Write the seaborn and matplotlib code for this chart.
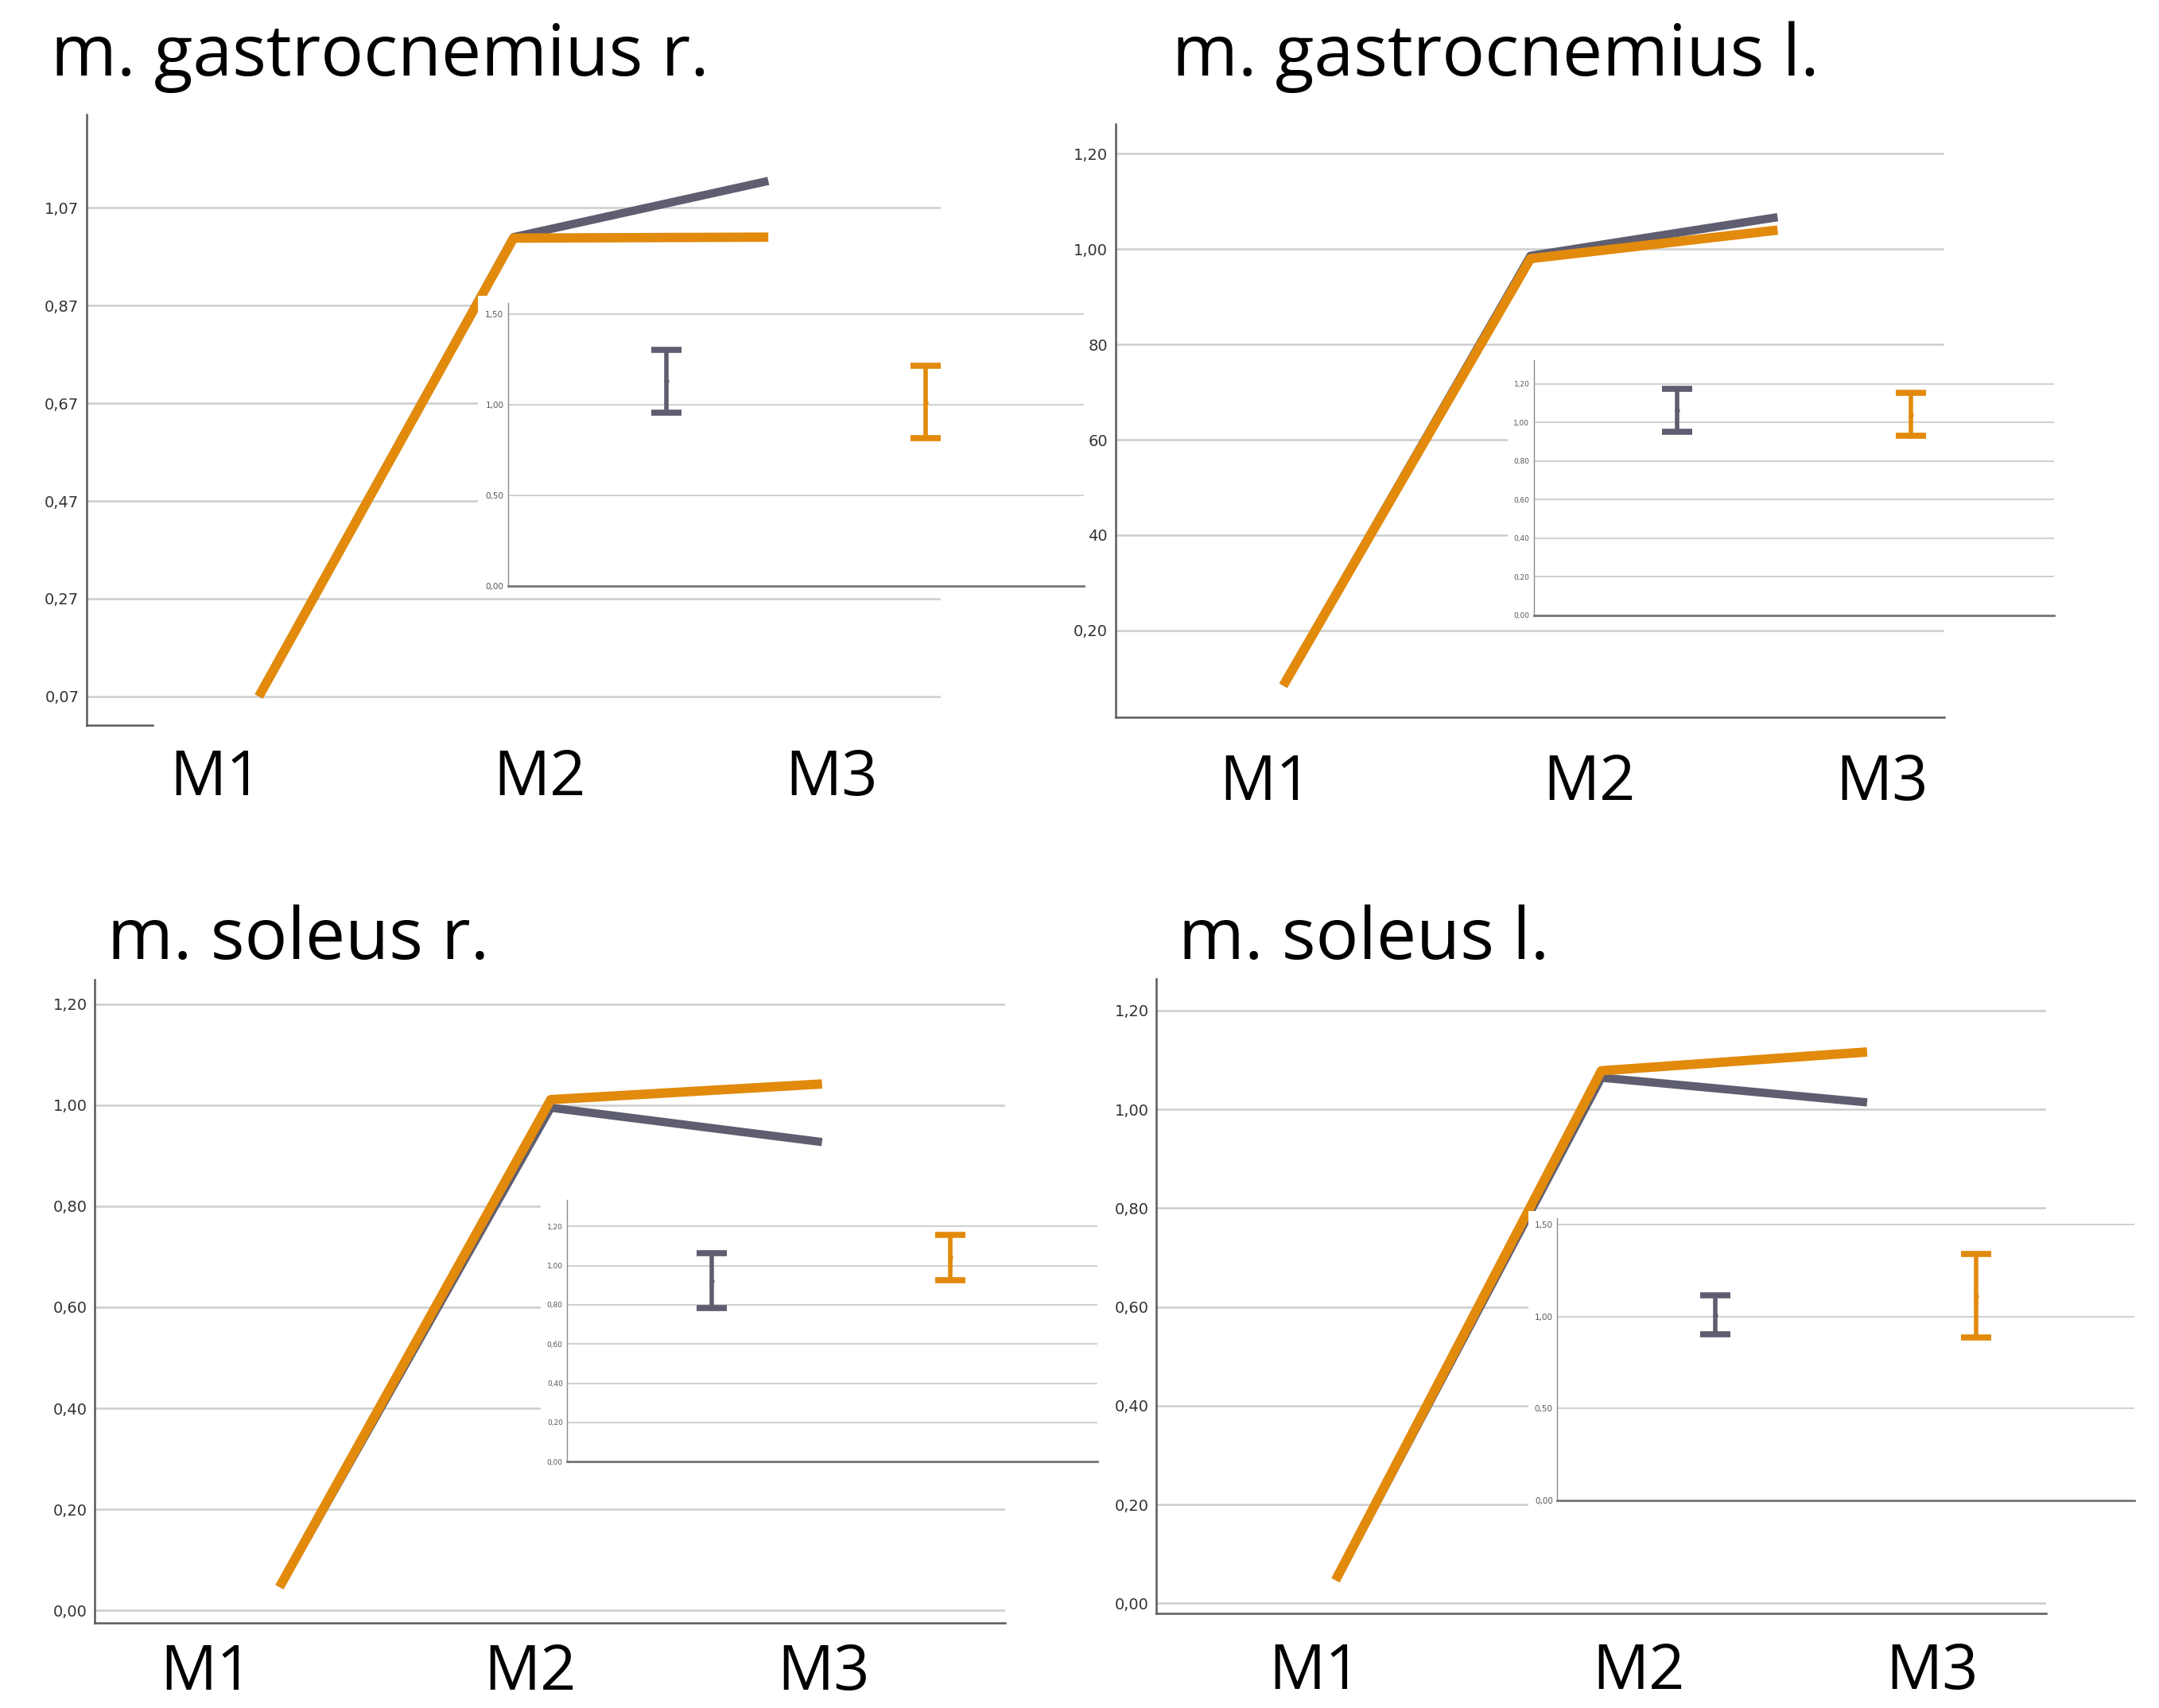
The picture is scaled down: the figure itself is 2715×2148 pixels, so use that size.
import matplotlib
matplotlib.use("Agg")
import matplotlib.pyplot as plt
from matplotlib.patches import Rectangle
import pandas as pd
import seaborn as sns

sns.set_theme(style="white")
plt.rcParams["font.family"] = ["DejaVu Sans"]

# --- colores ---
GREY = "#5e5e70"
ORANGE = "#e28a0c"
GRID = "#cdcdcd"

# --- datos ---
TIMES = ["M1", "M2", "M3"]
TITLES = ["m. gastrocnemius r.", "m. gastrocnemius l.", "m. soleus r.", "m. soleus l."]

GR_GREY = [0.07, 1.01, 1.125]
GR_ORANGE = [0.07, 1.008, 1.01]
GL_GREY = [0.084, 0.986, 1.067]
GL_ORANGE = [0.084, 0.98, 1.04]
SR_GREY = [0.046, 0.995, 0.927]
SR_ORANGE = [0.046, 1.011, 1.042]
SL_GREY = [0.047, 1.064, 1.014]
SL_ORANGE = [0.047, 1.078, 1.116]

# inset: (media, inferior, superior)
GR_ERR_GREY = (1.13, 0.955, 1.30)
GR_ERR_ORANGE = (1.012, 0.815, 1.212)
GL_ERR_GREY = (1.065, 0.953, 1.175)
GL_ERR_ORANGE = (1.04, 0.93, 1.153)
SR_ERR_GREY = (0.923, 0.782, 1.062)
SR_ERR_ORANGE = (1.042, 0.927, 1.155)
SL_ERR_GREY = (1.007, 0.903, 1.115)
SL_ERR_ORANGE = (1.114, 0.886, 1.34)

GR_TICKS = [0.07, 0.27, 0.47, 0.67, 0.87, 1.07]
GR_TICKLABELS = ["0,07", "0,27", "0,47", "0,67", "0,87", "1,07"]
GL_TICKS = [0.2, 0.4, 0.6, 0.8, 1.0, 1.2]
GL_TICKLABELS = ["0,20", "40", "60", "80", "1,00", "1,20"]
S_TICKS = [0.0, 0.2, 0.4, 0.6, 0.8, 1.0, 1.2]
S_TICKLABELS = ["0,00", "0,20", "0,40", "0,60", "0,80", "1,00", "1,20"]
INSET_TICKS_A = [0.0, 0.5, 1.0, 1.5]
INSET_TICKLABELS_A = ["0,00", "0,50", "1,00", "1,50"]
INSET_TICKS_B = [0.0, 0.2, 0.4, 0.6, 0.8, 1.0, 1.2]
INSET_TICKLABELS_B = ["0,00", "0,20", "0,40", "0,60", "0,80", "1,00", "1,20"]

# --- layout (coordenadas en pixeles de la referencia 1568x1241) ---
REF_W, REF_H = 1568, 1241


def fx(x):
    return x / REF_W


def fy(y):
    return 1 - y / REF_H


def fbox(l, t, r, b):
    return [fx(l), fy(b), fx(r) - fx(l), fy(t) - fy(b)]


def calib(p0, v0, p1, v1, pos):
    k = (v1 - v0) / (p1 - p0)
    return v0 + (pos - p0) * k


PANELS = [
    dict(title=TITLES[0], title_xy=(37, 55), grey=GR_GREY, orange=GR_ORANGE,
         box=(63, 83, 683, 527), xcal=(188, 558), ycal=(151, 1.07, 506, 0.07),
         ticks=GR_TICKS, ticklabels=GR_TICKLABELS, spine_end=111,
         xlab=(157, 392, 604), xlab_y=578,
         inset=(369, 220, 787, 426), icx=(484, 672), iycal=(228, 1.5, 426, 0.0),
         white=(347, 215, 787, 431), iticks=INSET_TICKS_A, iticklabels=INSET_TICKLABELS_A,
         isize=7.5, err_grey=GR_ERR_GREY, err_orange=GR_ERR_ORANGE),
    dict(title=TITLES[1], title_xy=(851, 55), grey=GL_GREY, orange=GL_ORANGE,
         box=(810, 90, 1412, 521), xcal=(932, 1291), ycal=(181, 1.0, 458, 0.2),
         ticks=GL_TICKS, ticklabels=GL_TICKLABELS, spine_end=None,
         xlab=(919, 1154, 1367), xlab_y=581,
         inset=(1114, 262, 1492, 447), icx=(1218, 1388), iycal=(279, 1.2, 447, 0.0),
         white=(1095, 258, 1492, 452), iticks=INSET_TICKS_B, iticklabels=INSET_TICKLABELS_B,
         isize=6.5, err_grey=GL_ERR_GREY, err_orange=GL_ERR_ORANGE),
    dict(title=TITLES[2], title_xy=(78, 697), grey=SR_GREY, orange=SR_ORANGE,
         box=(69, 712, 730, 1179), xcal=(203, 597), ycal=(803, 1.0, 1170, 0.0),
         ticks=S_TICKS, ticklabels=S_TICKLABELS, spine_end=None,
         xlab=(150, 385, 598), xlab_y=1228,
         inset=(412, 872, 797, 1062), icx=(517, 690), iycal=(891, 1.2, 1062, 0.0),
         white=(393, 868, 797, 1066), iticks=INSET_TICKS_B, iticklabels=INSET_TICKLABELS_B,
         isize=6.5, err_grey=SR_ERR_GREY, err_orange=SR_ERR_ORANGE),
    dict(title=TITLES[3], title_xy=(856, 697), grey=SL_GREY, orange=SL_ORANGE,
         box=(840, 711, 1486, 1172), xcal=(970, 1356), ycal=(806, 1.0, 1165, 0.0),
         ticks=S_TICKS, ticklabels=S_TICKLABELS, spine_end=None,
         xlab=(955, 1190, 1403), xlab_y=1227,
         inset=(1131, 885, 1550, 1090), icx=(1246, 1435), iycal=(890, 1.5, 1090, 0.0),
         white=(1110, 880, 1550, 1096), iticks=INSET_TICKS_A, iticklabels=INSET_TICKLABELS_A,
         isize=7.5, err_grey=SL_ERR_GREY, err_orange=SL_ERR_ORANGE),
]


def draw_panel(fig, p):
    l, t, r, b = p["box"]
    ax = fig.add_axes(fbox(l, t, r, b), zorder=0)
    ax.set_facecolor("none")

    df = pd.DataFrame({
        "x": list(range(3)) * 2,
        "valor": p["grey"] + p["orange"],
        "grupo": ["a"] * 3 + ["b"] * 3,
    })
    sns.lineplot(data=df, x="x", y="valor", hue="grupo", palette=[GREY, ORANGE],
                 hue_order=["a", "b"], legend=False, ax=ax, linewidth=8.5,
                 solid_capstyle="butt")
    ax.lines[0].set_linewidth(7.5)

    x0, x2 = p["xcal"]
    xlim = (calib(x0, 0, x2, 2, l), calib(x0, 0, x2, 2, r))
    p0, v0, p1, v1 = p["ycal"]
    ylim = (calib(p0, v0, p1, v1, b), calib(p0, v0, p1, v1, t))
    ax.set_xlim(xlim)
    ax.set_ylim(ylim)

    ax.set_yticks(p["ticks"])
    ax.set_yticklabels(p["ticklabels"])
    ax.set_xticks([])
    ax.set_xlabel("")
    ax.set_ylabel("")
    ax.tick_params(axis="y", length=0, pad=7, labelsize=14, labelcolor="#333333")
    ax.yaxis.grid(True, color=GRID, linewidth=1.8)
    ax.set_axisbelow(True)
    for s in ["top", "right"]:
        ax.spines[s].set_visible(False)
    for s in ["left", "bottom"]:
        ax.spines[s].set_color("#5a5a5a")
        ax.spines[s].set_linewidth(1.8)
    if p["spine_end"] is not None:
        ax.spines["bottom"].set_bounds(xlim[0], calib(x0, 0, x2, 2, p["spine_end"]))

    # titulo y etiquetas M1..M3
    tx, ty = p["title_xy"]
    fig.text(fx(tx), fy(ty), p["title"], fontsize=64.5, family="Open Sans",
             ha="left", va="baseline", color="black")
    for lab, px in zip(TIMES, p["xlab"]):
        fig.text(fx(px), fy(p["xlab_y"]), lab, fontsize=57, family="Open Sans",
                 ha="center", va="baseline", color="black")

    # fondo blanco del inset
    wl, wt, wr, wb = p["white"]
    fig.add_artist(Rectangle((fx(wl), fy(wb)), fx(wr) - fx(wl), fy(wt) - fy(wb),
                             transform=fig.transFigure, facecolor="white",
                             edgecolor="none", zorder=1))

    il, it, ir, ib = p["inset"]
    ia = fig.add_axes(fbox(il, it, ir, ib), zorder=2)
    ia.set_facecolor("white")
    c0, c1 = p["icx"]
    ia.set_xlim(calib(c0, 0, c1, 1, il), calib(c0, 0, c1, 1, ir))
    q0, w0, q1, w1 = p["iycal"]
    ia.set_ylim(calib(q0, w0, q1, w1, ib), calib(q0, w0, q1, w1, it))
    for i, (err, col) in enumerate([(p["err_grey"], GREY), (p["err_orange"], ORANGE)]):
        m, lo, hi = err
        ia.errorbar([i], [m], yerr=[[m - lo], [hi - m]], fmt="o", color=col,
                    markersize=3.5, elinewidth=4, capsize=14, capthick=5.5)
    ia.set_yticks(p["iticks"])
    ia.set_yticklabels(p["iticklabels"])
    ia.set_xticks([])
    ia.tick_params(axis="y", length=0, pad=4, labelsize=p["isize"], labelcolor="#555555")
    ia.yaxis.grid(True, color=GRID, linewidth=1.3)
    ia.set_axisbelow(True)
    for s in ["top", "right"]:
        ia.spines[s].set_visible(False)
    ia.spines["left"].set_color("#8a8a8a")
    ia.spines["left"].set_linewidth(1.0)
    ia.spines["bottom"].set_color("#777777")
    ia.spines["bottom"].set_linewidth(2.0)


fig = plt.figure(figsize=(27.15, 21.48), dpi=100)
fig.patch.set_facecolor("white")
for panel in PANELS:
    draw_panel(fig, panel)

fig.savefig("out.png", dpi=100, facecolor="white")
